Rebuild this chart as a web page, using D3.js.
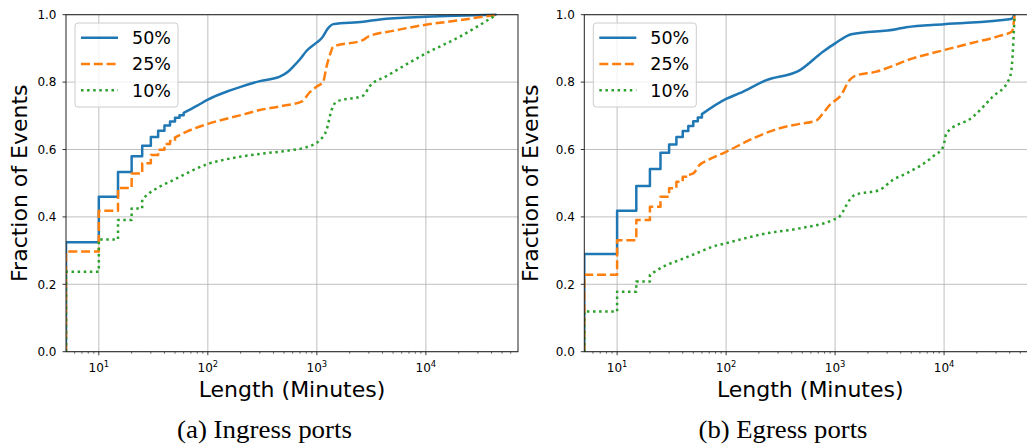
<!DOCTYPE html>
<html><head><meta charset="utf-8">
<script src="https://cdn.jsdelivr.net/npm/d3@7"></script>
<style>body{margin:0;background:#fff}svg{display:block}</style>
</head><body><svg id="c" width="1027" height="445"></svg>
<script>
// ---------- data ----------
const seriesNames = ["50%", "25%", "10%"];
const yTicks = [0, 0.2, 0.4, 0.6, 0.8, 1.0];
const xTicks = [10, 100, 1000, 10000];
const xDomain = [5, 70000];
const captions = ["(a)  Ingress ports", "(b)  Egress ports"];
const xLabel = "Length (Minutes)";
const yLabel = "Fraction of Events";

// [minutes, fraction]: stepped part, then smooth part
const ingress50Steps = [[5,0.325],[10,0.46],[15,0.533],[20,0.58],[25,0.611],[30,0.637],[35,0.656],[40,0.671],[45,0.683],[50,0.694],[55,0.702]];
const ingress50Smooth = [[60,0.709],[70,0.72],[80,0.73],[100,0.748],[150,0.772],[200,0.786],[300,0.803],[457,0.816],[550,0.832],[607,0.846],[700,0.868],[805,0.893],[1000,0.918],[1105,0.93],[1270,0.96],[1413,0.972],[2660,0.979],[3790,0.986],[10000,0.994],[44400,1.0]];
const ingress25Steps = [[5,0.297],[10,0.418],[15,0.486],[20,0.529],[25,0.559],[30,0.584],[35,0.599],[40,0.616],[45,0.625]];
const ingress25Smooth = [[50,0.636],[64,0.653],[100,0.676],[200,0.702],[300,0.717],[474,0.729],[724,0.742],[863,0.77],[1000,0.787],[1143,0.801],[1227,0.846],[1330,0.885],[1413,0.905],[2660,0.925],[2958,0.935],[5000,0.952],[9050,0.968],[20500,0.984],[44400,1.0]];
const ingress10Steps = [[5,0.237],[10,0.333],[15,0.391],[20,0.425]];
const ingress10Smooth = [[25,0.452],[29.4,0.472],[36.3,0.49],[51.6,0.514],[73.5,0.539],[100,0.557],[148,0.571],[300,0.587],[607,0.599],[805,0.607],[1066,0.628],[1227,0.658],[1365,0.717],[1517,0.742],[2660,0.76],[3060,0.788],[4370,0.818],[10000,0.885],[20500,0.935],[44400,1.0]];

const egress50Steps = [[5,0.29],[10,0.418],[15,0.492],[20,0.542],[25,0.59],[30,0.615],[35,0.637],[40,0.655],[45,0.67],[50,0.684],[55,0.695]];
const egress50Smooth = [[60,0.705],[100,0.75],[133,0.767],[234,0.806],[472,0.835],[773,0.89],[1000,0.915],[1408,0.942],[3640,0.957],[4500,0.963],[10000,0.972],[41300,0.987],[44400,1.0]];
const egress25Steps = [[5,0.228],[10,0.331],[15,0.391],[20,0.43],[25,0.46],[30,0.485],[35,0.504],[40,0.519]];
const egress25Smooth = [[45,0.525],[50,0.529],[57,0.554],[65.8,0.566],[100,0.593],[176,0.633],[310,0.663],[472,0.676],[671,0.686],[773,0.707],[891,0.732],[1138,0.762],[1358,0.806],[1510,0.818],[2387,0.831],[3390,0.848],[4500,0.864],[10000,0.895],[18400,0.917],[32300,0.937],[42000,0.95],[44400,1.0]];
const egress10Steps = [[5,0.119],[10,0.178],[15,0.208]];
const egress10Smooth = [[20,0.228],[26.3,0.252],[37.4,0.272],[53.3,0.292],[75.7,0.312],[100,0.322],[234,0.351],[472,0.366],[957,0.391],[1099,0.401],[1358,0.45],[1510,0.465],[2560,0.48],[3390,0.51],[4500,0.529],[7890,0.579],[9800,0.608],[10500,0.648],[18400,0.697],[28000,0.757],[38400,0.801],[41300,0.831],[42800,0.895],[43700,0.955],[44400,1.0]];

const panelsData = [
  [[ingress50Steps, ingress50Smooth], [ingress25Steps, ingress25Smooth], [ingress10Steps, ingress10Smooth]],
  [[egress50Steps, egress50Smooth], [egress25Steps, egress25Smooth], [egress10Steps, egress10Smooth]]
];

// ---------- styles ----------
const colors = ["#1f77b4", "#ff7f0e", "#2ca02c"];
const dashes = [null, "9,3.8", "2.5,3.6"];
const layout = [
  {x0: 66, x1: 518, capX: 264.5, yLabX: 19},
  {x0: 584.3, x1: 1036.2, capX: 783, yLabX: 530}
];
const yTop = 14.7, yBot = 351.7;

const svg = d3.select("#c");
svg.append("rect").attr("width", 1027).attr("height", 445).attr("fill", "#fff");
const defs = svg.append("defs");

layout.forEach((L, pi) => {
  const x = d3.scaleLog().domain(xDomain).range([L.x0, L.x1]);
  const y = d3.scaleLinear().domain([0, 1]).range([yBot, yTop]);
  const g = svg.append("g");
  const clipId = "clip" + pi;
  defs.append("clipPath").attr("id", clipId).append("rect")
    .attr("x", L.x0).attr("y", yTop - 2).attr("width", L.x1 - L.x0).attr("height", yBot - yTop + 4);

  // grid
  g.selectAll(".gx").data(xTicks).join("line")
    .attr("x1", d => x(d)).attr("x2", d => x(d)).attr("y1", yTop).attr("y2", yBot)
    .attr("stroke", "#b0b0b0").attr("stroke-width", 0.8);
  g.selectAll(".gy").data(yTicks).join("line")
    .attr("x1", L.x0).attr("x2", L.x1).attr("y1", d => y(d)).attr("y2", d => y(d))
    .attr("stroke", "#b0b0b0").attr("stroke-width", 0.8);

  // lines
  const lg = g.append("g").attr("clip-path", `url(#${clipId})`);
  const stepLine = d3.line().x(d => x(d[0])).y(d => y(d[1])).curve(d3.curveStepAfter);
  const smoothLine = d3.line().x(d => x(d[0])).y(d => y(d[1])).curve(d3.curveMonotoneX);
  panelsData[pi].forEach((s, si) => {
    const [steps, smooth] = s;
    const stepPts = [[xDomain[0], 0]].concat(steps, [smooth[0]]);
    const d = stepLine(stepPts) + smoothLine(smooth).replace(/^M/, "L");
    const p = lg.append("path").attr("d", d).attr("fill", "none")
      .attr("stroke", colors[si]).attr("stroke-width", 2.5)
      .attr("stroke-linejoin", "round");
    if (dashes[si]) p.attr("stroke-dasharray", dashes[si]);
  });

  // x axis ticks
  const minor = [];
  for (let e = 0; e <= 4; e++) for (let m = 2; m <= 9; m++) {
    const v = m * Math.pow(10, e);
    if (v > xDomain[0] && v < xDomain[1]) minor.push(v);
  }
  g.selectAll(".mt").data(minor).join("line")
    .attr("x1", d => x(d)).attr("x2", d => x(d)).attr("y1", yBot).attr("y2", yBot + 2)
    .attr("stroke", "#000").attr("stroke-width", 0.6);
  g.selectAll(".Mt").data(xTicks).join("line")
    .attr("x1", d => x(d)).attr("x2", d => x(d)).attr("y1", yBot).attr("y2", yBot + 3.5)
    .attr("stroke", "#000").attr("stroke-width", 0.8);
  const xl = g.selectAll(".xl").data(xTicks).join("text")
    .attr("x", d => x(d)).attr("y", 372).attr("text-anchor", "middle")
    .attr("font-family", "DejaVu Sans").attr("font-size", 12).attr("fill", "#000");
  xl.append("tspan").text("10");
  xl.append("tspan").attr("font-size", 8.4).attr("dy", -5).text(d => String(Math.round(Math.log10(d))));

  // y ticks
  g.selectAll(".yt").data(yTicks).join("line")
    .attr("x1", L.x0 - 3.5).attr("x2", L.x0).attr("y1", d => y(d)).attr("y2", d => y(d))
    .attr("stroke", "#000").attr("stroke-width", 0.8);
  g.selectAll(".yl").data(yTicks).join("text")
    .attr("x", L.x0 - 9.5).attr("y", d => y(d) + 4.3).attr("text-anchor", "end")
    .attr("font-family", "DejaVu Sans").attr("font-size", 12).attr("fill", "#000")
    .text(d => d3.format(".1f")(d));

  // spines
  g.append("rect").attr("x", L.x0).attr("y", yTop).attr("width", L.x1 - L.x0).attr("height", yBot - yTop)
    .attr("fill", "none").attr("stroke", "#222").attr("stroke-width", 1);

  // axis labels
  g.append("text").attr("x", (L.x0 + L.x1) / 2).attr("y", 397).attr("text-anchor", "middle")
    .attr("font-family", "DejaVu Sans").attr("font-size", 22).text(xLabel);
  g.append("text").attr("transform", `translate(${L.yLabX + 8},${(yTop + yBot) / 2}) rotate(-90)`)
    .attr("text-anchor", "middle").attr("font-family", "DejaVu Sans").attr("font-size", 22).text(yLabel);

  // legend
  const leg = g.append("g").attr("transform", `translate(${L.x0 + 9},23)`);
  leg.append("rect").attr("width", 103).attr("height", 84).attr("rx", 3)
    .attr("fill", "#fff").attr("fill-opacity", 0.8).attr("stroke", "#cccccc").attr("stroke-width", 1);
  seriesNames.forEach((n, i) => {
    const yy = 14.7 + i * 26.3;
    const ln = leg.append("line").attr("x1", 6).attr("x2", 43).attr("y1", yy).attr("y2", yy)
      .attr("stroke", colors[i]).attr("stroke-width", 2.5);
    if (dashes[i]) ln.attr("stroke-dasharray", dashes[i]);
    leg.append("text").attr("x", 57).attr("y", yy + 6.3)
      .attr("font-family", "DejaVu Sans").attr("font-size", 17.5).text(n);
  });

  // caption
  svg.append("text").attr("x", L.capX).attr("y", 438).attr("text-anchor", "middle")
    .attr("font-family", "Liberation Serif, Times New Roman, serif").attr("font-size", 24.5)
    .attr("textLength", pi === 0 ? 175 : 169).attr("lengthAdjust", "spacingAndGlyphs")
    .text(captions[pi]);
});
</script></body></html>
